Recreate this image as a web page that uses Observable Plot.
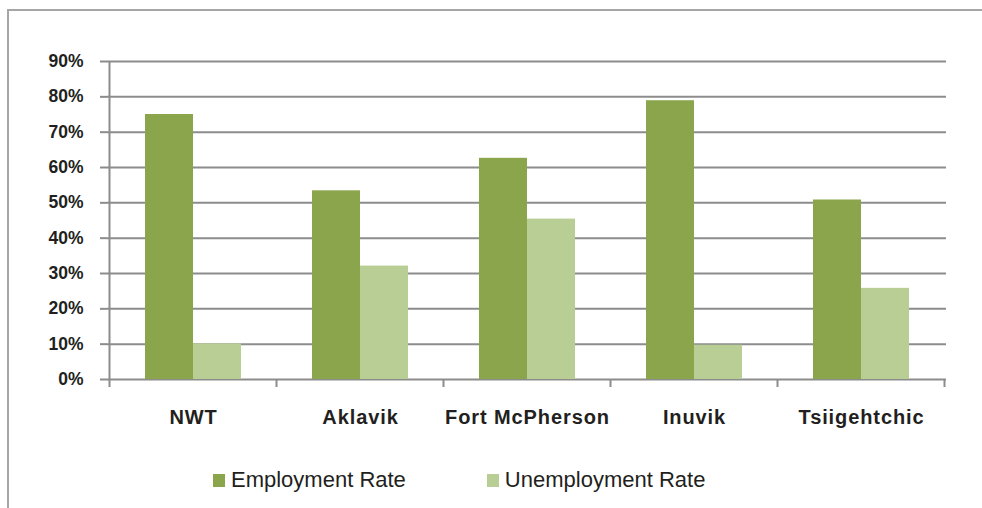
<!DOCTYPE html>
<html>
<head>
<meta charset="utf-8">
<script src="https://cdn.jsdelivr.net/npm/d3@7"></script>
<script src="https://cdn.jsdelivr.net/npm/@observablehq/plot@0.6"></script>
<style>
  html, body { margin: 0; padding: 0; background: #fff; overflow: hidden; }
  #wrap { position: relative; width: 982px; height: 508px; overflow: hidden; font-family: "Liberation Sans", Arial, sans-serif; }
  #frameTop { position: absolute; left: 7px; top: 9px; width: 975px; height: 2px; background: #a6a6a6; }
  #frameLeft { position: absolute; left: 7px; top: 9px; width: 2px; height: 499px; background: #a6a6a6; }
  #chart { position: absolute; left: 0; top: 0; }
  [aria-label="x-axis tick label"] text { letter-spacing: 0.9px; font-size: 20px; font-weight: bold; }
  [aria-label="y-axis tick label"] text { font-size: 17.5px; font-weight: bold; }
  #legend { position: absolute; left: 213px; top: 466px; height: 28px; display: flex; align-items: center;
            font-size: 22px; color: #231f20; }
  .item { display: flex; align-items: center; }
  .item + .item { margin-left: 81px; }
  .sw { width: 12px; height: 13px; margin-right: 6px; }
</style>
</head>
<body>
<div id="wrap">
  <div id="frameTop"></div>
  <div id="frameLeft"></div>
  <div id="chart"></div>
  <div id="legend"></div>
</div>
<script>
const categories = ["NWT", "Aklavik", "Fort McPherson", "Inuvik", "Tsiigehtchic"];
const employmentRate = [75.0, 53.4, 62.6, 78.9, 50.8];
const unemploymentRate = [10.1, 32.1, 45.4, 9.7, 25.8];
const seriesNames = ["Employment Rate", "Unemployment Rate"];
const seriesColors = ["#8aa54b", "#b9ce95"];
const yTicks = [0, 10, 20, 30, 40, 50, 60, 70, 80, 90];

const empRows = categories.map((c, i) => ({category: c, value: employmentRate[i]}));
const unempRows = categories.map((c, i) => ({category: c, value: unemploymentRate[i]}));

const chart = Plot.plot({
  width: 982,
  height: 440,
  marginLeft: 107,
  marginRight: 36,
  marginTop: 61,
  marginBottom: 61,
  style: {fontFamily: "'Liberation Sans', Arial, sans-serif", background: "transparent", overflow: "visible"},
  x: {domain: categories, paddingInner: 0.428, paddingOuter: 0.214, label: null},
  y: {domain: [0, 90], label: null},
  marks: [
    Plot.gridY(yTicks, {stroke: "#8c8c8c", strokeOpacity: 1, strokeWidth: 2}),
    Plot.barY(empRows, {x: "category", y: "value", fill: seriesColors[0], insetRight: 48}),
    Plot.barY(unempRows, {x: "category", y: "value", fill: seriesColors[1], insetLeft: 48}),
    Plot.axisY(yTicks, {tickSize: 7, tickPadding: 17, stroke: "#8c8c8c", strokeWidth: 2,
      tickFormat: d => d + "%", fontSize: 17.5, fontWeight: "bold", fill: "#231f20", label: null}),
    Plot.axisX({tickSize: 0, tickPadding: 30, fontSize: 20, fontWeight: "bold", fill: "#231f20", label: null})
  ]
});

document.getElementById("chart").appendChild(chart);

// category boundary ticks and vertical axis line, from the plot's own scales
const xs = chart.scale("x");
const ys = chart.scale("y");
const step = xs.step, bw = xs.bandwidth;
const bounds = categories.map(c => xs.apply(c) - (step - bw) / 2);
bounds.push(bounds[bounds.length - 1] + step);
const y0 = ys.apply(0), yTop = ys.apply(90);
const g = d3.select(chart).append("g").attr("stroke", "#8c8c8c").attr("stroke-width", 2);
bounds.forEach((bx, i) => {
  g.append("line").attr("x1", bx).attr("x2", bx)
    .attr("y1", i === 0 ? yTop : y0).attr("y2", y0 + 8);
});

// legend
const legend = d3.select("#legend");
seriesNames.forEach((name, i) => {
  const it = legend.append("div").attr("class", "item");
  it.append("div").attr("class", "sw").style("background", seriesColors[i]);
  it.append("span").text(name);
});
</script>
</body>
</html>
